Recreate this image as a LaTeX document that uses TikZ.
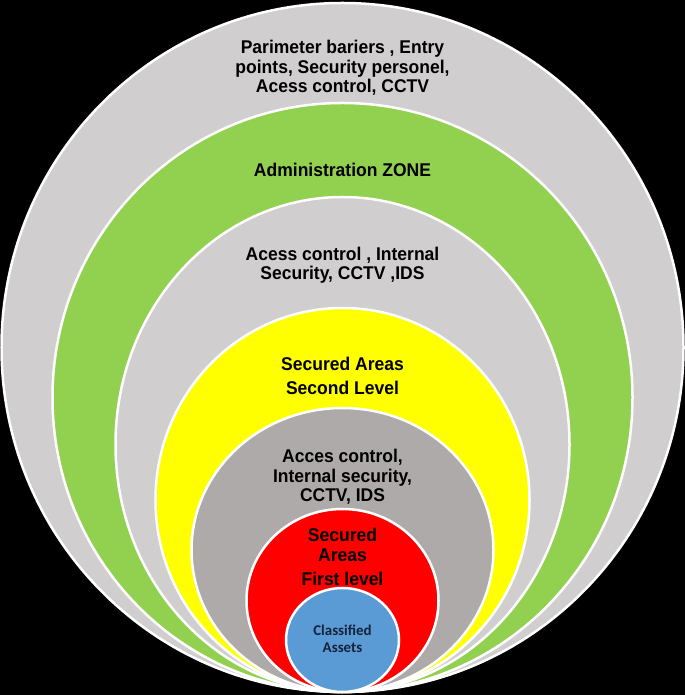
\documentclass[tikz,border=0pt]{standalone}
\usepackage{fontspec}
\newfontfamily\zonefont[FakeStretch=0.95]{Liberation Sans}
\newfontfamily\assetfont{Carlito}
\definecolor{hellgrau}{HTML}{D0CECE}
\definecolor{gruen}{HTML}{92D050}
\definecolor{gelb}{HTML}{FFFF00}
\definecolor{dunkelgrau}{HTML}{AEAAAA}
\definecolor{rot}{HTML}{FF0000}
\definecolor{blau}{HTML}{5B9BD5}
\definecolor{marine}{HTML}{14233A}

\begin{document}
\begin{tikzpicture}[x=1bp,y=1bp]
				% Einstellungen für Zonen und Texte
				\tikzset{zone/.style={
						draw=white, % Weiße Linie für die Umrandung
						line width=2.5bp % Dicke der Umrandung
					},
					zonetext/.style={
						font=\zonefont\bfseries\fontsize{18.5}{19.5}\selectfont, % Schrift der Beschriftung
						text=black, % Textfarbe
						align=center % Text zentrieren
				}}
				
				% Schwarzer Hintergrund
				\fill[black] (0,0) rectangle (685,695);
				\useasboundingbox (0,0) rectangle (685,695);
				
				% Ellipsen von außen nach innen: Mitte y / Radius x / Radius y / Farbe
				\foreach \cy/\rx/\ry/\farbe in {347.5/341/344.5/hellgrau,
						297.5/290/294.5/gruen,
						250.5/227/247.5/hellgrau,
						195/187/192/gelb,
						145/151/142/dunkelgrau,
						94.5/96/91.5/rot,
						55/56.5/52/blau} {
					\draw[zone, fill=\farbe] (342.5,\cy) ellipse ({\rx} and {\ry}); % Ellipse zeichnen
				}
				
				% Beschriftungen der Zonen
				\node[zonetext] (perimeter) at (342.5,627) {Parimeter bariers , Entry\\points, Security personel,\\Acess control, CCTV};
				\node[zonetext] (admin) at (342.5,525) {Administration ZONE};
				\node[zonetext] (internal) at (342.5,429.5) {Acess control , Internal\\Security, CCTV ,IDS};
				\node[zonetext] (second) at (342.5,319) {Secured Areas\\[4.5bp]Second Level};
				\node[zonetext] (inner) at (342.5,218) {Acces control,\\Internal security,\\CCTV, IDS};
				\node[zonetext] (first) at (342.5,138) {Secured\\Areas\\[5bp]First level};
				\node[font=\assetfont\bfseries\fontsize{15}{17}\selectfont, text=marine, align=center] (assets) at (342.5,56.5) {Classified\\Assets};
			\end{tikzpicture}
\end{document}
